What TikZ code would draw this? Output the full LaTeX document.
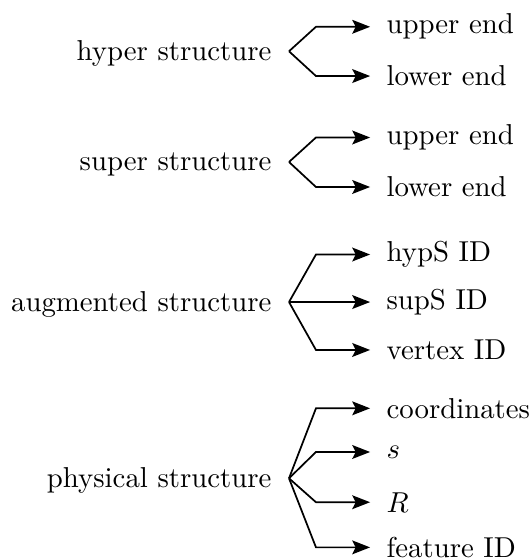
\documentclass[tikz,border=0pt]{standalone}
\usepackage{amsmath,amssymb}
\usepackage{tikz}
\usetikzlibrary{positioning,arrows.meta}

\begin{document}
\begin{tikzpicture}[
  head/.style={anchor=east, yshift=-0.7pt},
  leaf/.style={anchor=west},
  arr/.style={-{Stealth[length=6.2pt,width=4.8pt,inset=1.2pt]}, semithick, shorten >=2.2pt}
]
  \useasboundingbox (0,0) rectangle (6.48,-6.822);

  % branch points
  \coordinate (hyp) at (3.527,-0.626);
  \coordinate (sup) at (3.527,-1.977);
  \coordinate (aug) at (3.527,-3.686);
  \coordinate (phy) at (3.527,-5.837);

  \node[head] (hypL) at ([xshift=-0.09cm]hyp) {hyper structure};
  \node[head] (supL) at ([xshift=-0.09cm]sup) {super structure};
  \node[head] (augL) at ([xshift=-0.09cm]aug) {augmented structure};
  \node[head] (phyL) at ([xshift=-0.09cm]phy) {physical structure};

  \node[leaf] (hypU) at (4.594,-0.327) {upper end};
  \node[leaf] (hypD) at (4.594,-0.928) {lower end};
  \node[leaf] (supU) at (4.594,-1.678) {upper end};
  \node[leaf] (supD) at (4.594,-2.282) {lower end};
  \node[leaf] (augH) at (4.594,-3.106) {hypS ID};
  \node[leaf] (augS) at (4.594,-3.686) {supS ID};
  \node[leaf] (augV) at (4.594,-4.271) {vertex ID};
  \node[leaf] (phyC) at (4.594,-4.983) {coordinates};
  \node[leaf] (phyS) at (4.594,-5.516) {$s$};
  \node[leaf] (phyR) at (4.594,-6.129) {$R$};
  \node[leaf] (phyF) at (4.594,-6.680) {feature ID};

  % two-way splits
  \draw[arr] (hyp) -- ([xshift=-0.738cm]hypU.west) -- (hypU.west);
  \draw[arr] (hyp) -- ([xshift=-0.738cm]hypD.west) -- (hypD.west);
  \draw[arr] (sup) -- ([xshift=-0.738cm]supU.west) -- (supU.west);
  \draw[arr] (sup) -- ([xshift=-0.738cm]supD.west) -- (supD.west);

  % three-way split
  \draw[arr] (aug) -- ([xshift=-0.738cm]augH.west) -- (augH.west);
  \draw[arr] (aug) -- (augS.west);
  \draw[arr] (aug) -- ([xshift=-0.738cm]augV.west) -- (augV.west);

  % four-way split
  \draw[arr] (phy) -- ([xshift=-0.738cm]phyC.west) -- (phyC.west);
  \draw[arr] (phy) -- ([xshift=-0.738cm]phyS.west) -- (phyS.west);
  \draw[arr] (phy) -- ([xshift=-0.738cm]phyR.west) -- (phyR.west);
  \draw[arr] (phy) -- ([xshift=-0.738cm]phyF.west) -- (phyF.west);
\end{tikzpicture}
\end{document}
